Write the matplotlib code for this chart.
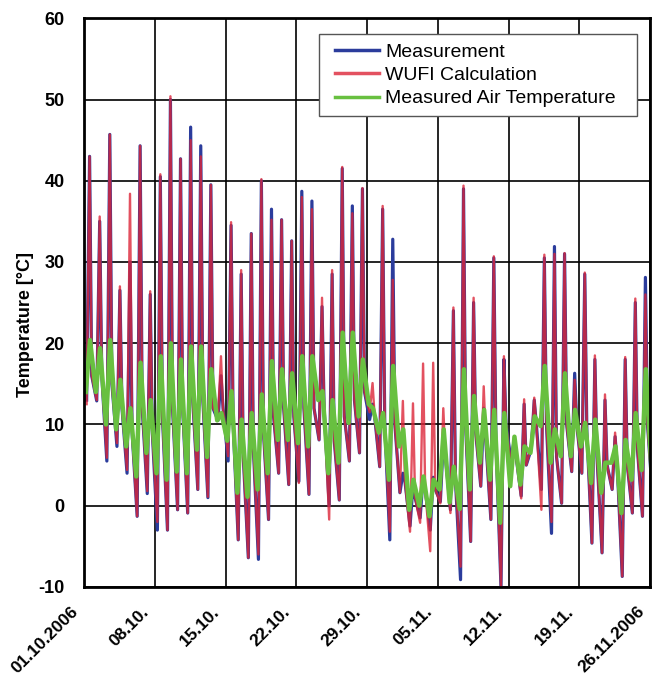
import numpy as np
import pandas as pd
import matplotlib
matplotlib.use("Agg")
import matplotlib.pyplot as plt
import matplotlib.transforms as mtransforms
from matplotlib.legend_handler import HandlerLine2D

# values, one entry per day, 01.10.2006 .. 26.11.2006
# night minimum (~06:00), afternoon maximum (~13:00), evening level (~18:00)
peaks_wufi = [43.0, 35.6, 45.7, 27.0, 38.4, 44.3, 26.4, 40.8, 50.4, 42.7,
              45.0, 43.0, 39.5, 18.4, 34.9, 29.0, 33.5, 40.2, 35.2, 35.2,
              32.6, 38.0, 36.5, 25.6, 29.0, 41.7, 36.0, 39.1, 15.1, 36.9,
              27.8, 12.9, 12.6, 17.5, 17.6, 12.0, 24.4, 39.4, 25.6, 14.7,
              30.7, 18.4, 8.5, 13.1, 13.3, 30.9, 31.0, 31.1, 15.5, 28.7,
              18.5, 13.7, 9.0, 18.3, 25.5, 26.0]
troughs_wufi = [12.5, 13.0, 5.9, 7.7, 4.4, -1.3, 1.8, -2.0, -3.0, -0.5,
                -0.9, 2.0, 1.1, 11.0, 6.1, -4.2, -6.4, -6.0, -1.7, 4.0,
                2.6, 2.8, 1.4, 8.1, -1.7, 0.7, 5.5, 6.5, 11.5, 4.8,
                -3.2, 1.6, -3.2, -2.1, -5.6, 0.3, -0.9, -7.5, -4.4, 2.4,
                -1.7, -10.0, 5.0, 0.9, 7.3, -0.5, -2.0, 0.3, 4.2, 4.0,
                -4.6, -5.8, 2.0, -8.7, -0.9, -1.3, 1.1]

peaks_meas = [43.0, 35.0, 45.7, 26.5, 30.0, 44.3, 26.0, 40.5, 50.0, 42.7,
              46.6, 44.3, 39.5, 16.0, 34.5, 28.5, 33.5, 40.0, 36.5, 35.2,
              32.6, 38.7, 37.5, 24.5, 28.5, 41.5, 36.9, 39.0, 12.5, 36.5,
              32.8, 4.0, 2.5, 3.5, 3.5, 8.0, 24.0, 39.0, 25.0, 12.0,
              30.5, 18.0, 8.0, 12.5, 13.0, 30.5, 31.9, 31.0, 16.3, 28.5,
              18.0, 13.0, 8.5, 18.0, 25.0, 28.1]
troughs_meas = [13.0, 12.9, 5.5, 7.3, 4.0, -1.3, 1.5, -3.0, -3.0, -0.5,
                -0.9, 2.0, 1.0, 10.5, 5.5, -4.2, -6.4, -6.6, -1.7, 4.0,
                2.6, 3.0, 1.4, 8.1, 0.0, 0.7, 5.5, 6.5, 10.6, 4.8,
                -4.2, 1.6, -2.5, -1.5, -3.0, 0.5, -0.5, -9.1, -4.4, 2.4,
                -1.7, -10.0, 5.5, 1.2, 7.0, 2.0, -3.4, 0.3, 4.2, 4.0,
                -4.6, -5.8, 2.0, -8.7, -0.9, -1.3, 1.1]

evening_surface = [16, 16, 15, 12, 9, 12, 9, 11, 12, 12,
                   13, 13, 12, 12, 10, 6, 7, 9, 11, 12,
                   11, 12, 12, 12, 8, 11, 13, 14, 11, 10,
                   10, 3, 1, 2, 2, 6, 3, 10, 9, 8,
                   8, 10, 6, 5, 10, 10, 6, 10, 10, 9,
                   6, 5, 5, 5, 7, 10]

peaks_air = [20.4, 19.4, 20.4, 15.5, 12.0, 17.6, 13.0, 18.4, 20.0, 18.0,
             19.6, 19.6, 16.8, 11.4, 14.1, 10.6, 11.4, 13.7, 17.8, 16.8,
             16.3, 18.4, 18.4, 14.1, 13.0, 21.3, 21.3, 18.0, 12.0, 11.4,
             17.2, 9.4, 3.2, 3.6, 3.2, 9.4, 4.8, 16.8, 13.5, 11.8,
             11.8, 11.4, 8.5, 7.3, 11.0, 17.2, 9.4, 16.3, 11.8, 10.2,
             10.6, 5.3, 7.3, 8.1, 11.4, 16.8]
troughs_air = [14.0, 14.0, 10.0, 9.4, 7.3, 3.6, 6.5, 4.0, 3.2, 4.2,
               4.0, 6.9, 6.0, 10.5, 8.0, 1.6, 1.1, 2.0, 4.0, 8.1,
               8.1, 7.7, 7.3, 13.0, 4.0, 5.3, 10.2, 11.0, 12.5, 9.0,
               3.2, 7.3, -0.5, 0.0, -1.3, 2.0, 0.4, -0.4, 2.0, 5.3,
               3.2, -2.1, 2.4, 2.6, 6.5, 9.8, 5.3, 6.1, 6.1, 7.3,
               2.8, 1.6, 5.3, -0.9, 3.2, 4.4, 4.0]

tick_labels = ["01.10.2006", "08.10.", "15.10.", "22.10.", "29.10.",
               "05.11.", "12.11.", "19.11.", "26.11.2006"]

start = pd.Timestamp("2006-10-01")
end = pd.Timestamp("2006-11-26")


def build_series(troughs, peaks, evening=None, lo_hour=6, hi_hour=13):
    times, vals = [], []
    for n, lo in enumerate(troughs):
        times.append(start + pd.Timedelta(days=n, hours=lo_hour))
        vals.append(lo)
        if n < len(peaks):
            times.append(start + pd.Timedelta(days=n, hours=hi_hour))
            vals.append(peaks[n])
            if evening is not None:
                times.append(start + pd.Timedelta(days=n, hours=18))
                vals.append(evening[n])
    return pd.Series(vals, index=pd.DatetimeIndex(times))


meas = build_series(troughs_meas, peaks_meas, evening_surface)
wufi = build_series(troughs_wufi, peaks_wufi, evening_surface)
air = build_series(troughs_air, peaks_air, lo_hour=4, hi_hour=14)

plt.rcParams["font.family"] = ["Liberation Sans", "DejaVu Sans"]
plt.rcParams["axes.unicode_minus"] = False

fig = plt.figure(figsize=(6.52, 6.77), dpi=100)
ax = fig.add_axes([0.129, 0.133, 0.868, 0.840])

ax.plot(meas.index, meas.values, color="#2b3c9c", lw=2.3, label="Measurement")
ax.plot(wufi.index, wufi.values, color="#dc2538", lw=1.7, alpha=0.8, label="WUFI Calculation")
ax.plot(air.index, air.values, color="#68c040", lw=3.2, label="Measured Air Temperature")

ax.set_xlim(start, end)
ax.set_ylim(-10, 60)
ax.set_yticks(np.arange(-10, 61, 10))
ticks = pd.date_range(start, end, freq="7D")
ax.set_xticks(ticks)
ax.tick_params(axis="x", length=0, pad=16)
ax.tick_params(axis="y", length=0, pad=14, labelsize=13)
ax.set_xticklabels(tick_labels, rotation=45, ha="right", va="center",
                   rotation_mode="anchor", fontweight="bold", fontsize=12.5)
for lab in ax.get_yticklabels():
    lab.set_fontweight("bold")

ax.grid(True, color="black", lw=1.2)
ax.set_axisbelow(True)
for sp in ax.spines.values():
    sp.set_linewidth(2)
ax.set_ylabel("Temperature [°C]", fontsize=13, fontweight="bold")
ax.yaxis.set_label_coords(-0.088, 0.462)

hmap = {h: HandlerLine2D(xpad=0.37) for h in ax.get_lines()}
leg = ax.legend(loc="upper left", bbox_to_anchor=(0.415, 0.5, 0.562, 0.472),
                mode="expand", fontsize=14, frameon=True, fancybox=False,
                framealpha=1, edgecolor="#555555", handlelength=2.66,
                handletextpad=0.3, labelspacing=0.3, borderpad=0.45,
                borderaxespad=0, handler_map=hmap)
leg.get_frame().set_linewidth(1.0)
for line in leg.get_lines():
    line.set_linewidth(2.5)

# nudge the rotated date labels a little to the left, as in the original
shift = mtransforms.ScaledTranslation(-6 / 72, 0, fig.dpi_scale_trans)
for tick in ax.xaxis.get_major_ticks():
    tick.label1.set_transform(tick.label1.get_transform() + shift)

fig.savefig("out.png", dpi=100)
